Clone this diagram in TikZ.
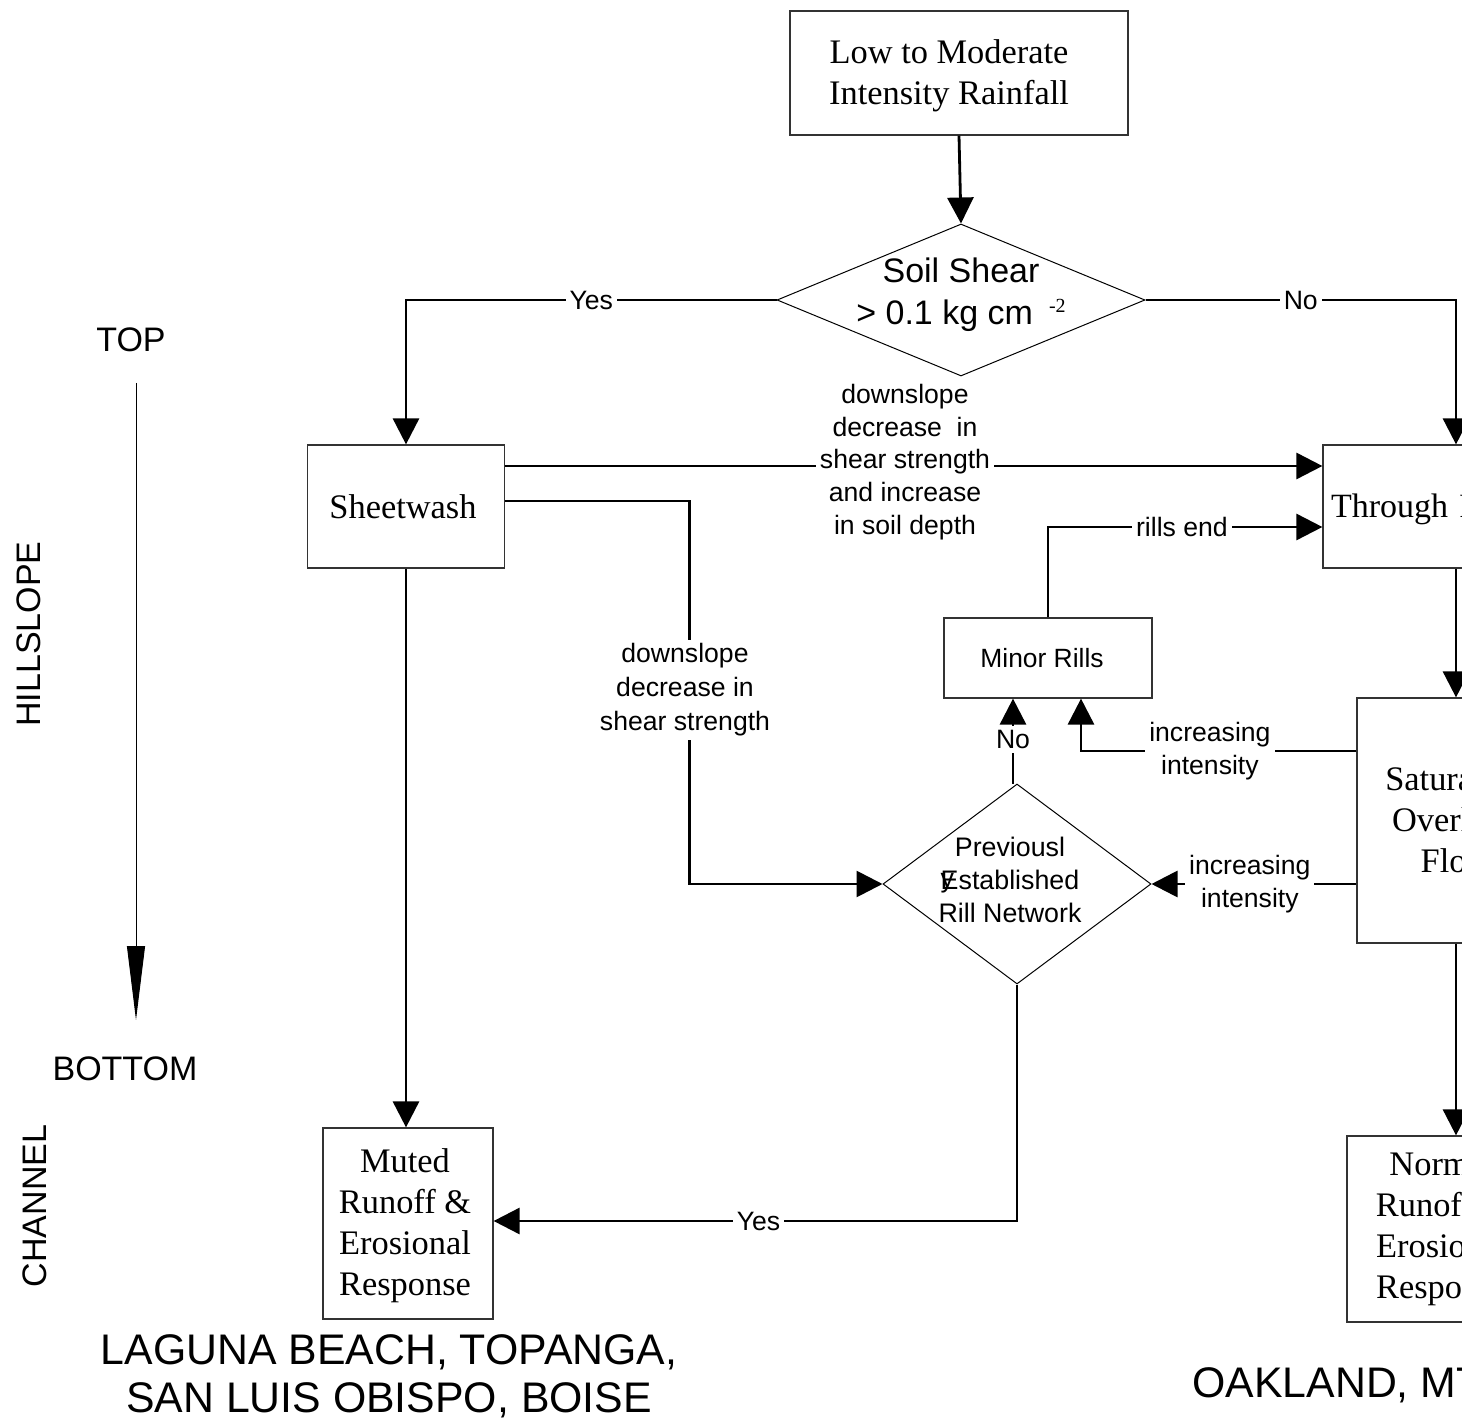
\documentclass[tikz,border=0pt]{standalone}
\usepackage{fontspec}
\setmainfont{Liberation Serif}
\setsansfont{Liberation Sans}
\usetikzlibrary{arrows.meta,shapes.geometric,calc}
\begin{document}
\begin{tikzpicture}[x=0.5pt,y=-0.5pt,
  box/.style={draw=black!80, line width=0.6pt, rectangle, inner sep=0pt, align=center, font=\fontsize{17.2}{20.5}\selectfont},
  dia/.style={draw, line width=0.5pt, diamond, inner sep=0pt},
  dtext/.style={font=\sffamily, align=center, inner sep=0pt},
  lab/.style={font=\sffamily\fontsize{13.3}{16.4}\selectfont, fill=white, align=center, inner sep=2pt},
  conn/.style={line width=1.4pt, -{Triangle[length=13pt,width=13pt]}},
  big/.style={font=\sffamily\fontsize{17}{20}\selectfont, inner sep=0pt},
  place/.style={font=\sffamily\fontsize{21.4}{24}\selectfont, align=center, inner sep=0pt}]
\useasboundingbox (0,0) rectangle (1462,1422);
\clip (0,0) rectangle (1462,1422);

% boxes
\node[box, minimum width=169pt, minimum height=62pt] (rain) at (959,73) {\hspace*{-10pt}\rule{0pt}{15pt}Low to Moderate\\\hspace*{-10pt}Intensity Rainfall};
\node[dia, minimum width=184pt, minimum height=76pt] (shear) at (961,300) {};
\node[dtext, font=\sffamily\fontsize{17}{21}\selectfont] (sheart) at (961,295) {Soil Shear\\{}> 0.1 kg cm\hspace{8pt}\raisebox{6pt}{\rmfamily\fontsize{10}{10}\selectfont -2}};
\node[box, minimum width=98.5pt, minimum height=61.5pt] (sheet) at (406,506.5) {\hspace*{-3pt}Sheetwash};
\node[box, minimum width=133pt, minimum height=61.5pt, text width=125pt, align=left, font=\fontsize{17}{20.5}\selectfont] (through) at (1456,506.5) {\rule{0pt}{15pt}Through Flow};
\node[box, minimum width=104pt, minimum height=40pt, font=\sffamily\fontsize{13.2}{15}\selectfont] (minor) at (1048,658) {\hspace*{-6pt}Minor Rills};
\node[box, minimum width=99pt, minimum height=122.5pt] (sat) at (1456,820.5) {Saturation\\Overland\\Flow};
\node[dia, minimum width=134pt, minimum height=100pt] (prev) at (1017,884) {};
\node[dtext, font=\sffamily\fontsize{13.4}{16.5}\selectfont] (prevt) at (1010,880) {Previousl\\\makebox[0pt][l]{\raisebox{1pt}{y}}Established\\Rill Network};
\node[box, minimum width=85pt, minimum height=95.5pt] (muted) at (408,1223.5) {\hspace*{-3pt}\rule{0pt}{14.5pt}Muted\\\hspace*{-3pt}Runoff \&\\\hspace*{-3pt}Erosional\\\hspace*{-3pt}Response};
\node[box, minimum width=95pt, minimum height=93pt] (normal) at (1442,1229) {Normal\\Runoff \&\\Erosional\\Response};

% left axis
\node[big] (top) at (131,340) {TOP};
\node[big] (bottom) at (125,1069) {BOTTOM};
\coordinate (axs) at (136,383);
\coordinate (axe) at (136,1020);
\draw[line width=0.5pt, -{Triangle[length=37pt,width=9pt]}] (axs) -- (axe);
\node[big, rotate=90] (hill) at (29,634) {HILLSLOPE};
\node[big, rotate=90] (chan) at (35,1206) {CHANNEL};

% places
\node[place] (laguna) at (389,1376) {LAGUNA BEACH, TOPANGA,\\SAN LUIS OBISPO, BOISE};
\node[place, anchor=west] (oak) at (1192,1385) {OAKLAND, MT};

% connectors
\draw[conn] (rain.south) -- (shear.north);
\draw[conn] (shear.west) -| node[lab, pos=0.25] {Yes} (sheet.north);
\draw[conn] (shear.east) -| node[lab, pos=0.25] {No} (through.north);
\draw[conn] ([yshift=20.25pt]sheet.east) -- ([yshift=20.25pt]through.west);
\node[lab] (l1) at (905,462) {downslope\\decrease\ \ in\\shear strength\\and increase\\in soil depth};
\draw[conn] ([yshift=2.75pt]sheet.east) -| ($(prev.west)+(-193,0)$) -- (prev.west);
\node[lab, font=\sffamily\fontsize{13.3}{17}\selectfont] (l2) at (685,690) {downslope\\decrease in\\shear strength};
\draw[conn] (sheet.south) -- (sheet.south |- muted.north);
\draw[conn] (prev.south) |- node[lab, pos=0.747] {Yes} ([yshift=1.25pt]muted.east);
\draw[conn] ([xshift=-2pt]prev.north) -- node[lab, pos=0.52] {No} ([xshift=-2pt]prev.north |- minor.south);
\draw[conn] ([yshift=34.75pt]sat.west) -| node[lab, pos=0.266] {increasing\\intensity} ($(minor.south)+(33,0)$);
\draw[conn] (sat.west |- prev.east) -- node[lab, pos=0.52] {increasing\\intensity} (prev.east);
\draw[conn] (minor.north) |- node[lab, pos=0.744] {rills end} ([yshift=-10.25pt]through.west);
\draw[conn] (through.south) -- (sat.north);
\draw[conn] (sat.south) -- (sat.south |- normal.north);
\end{tikzpicture}
\end{document}
